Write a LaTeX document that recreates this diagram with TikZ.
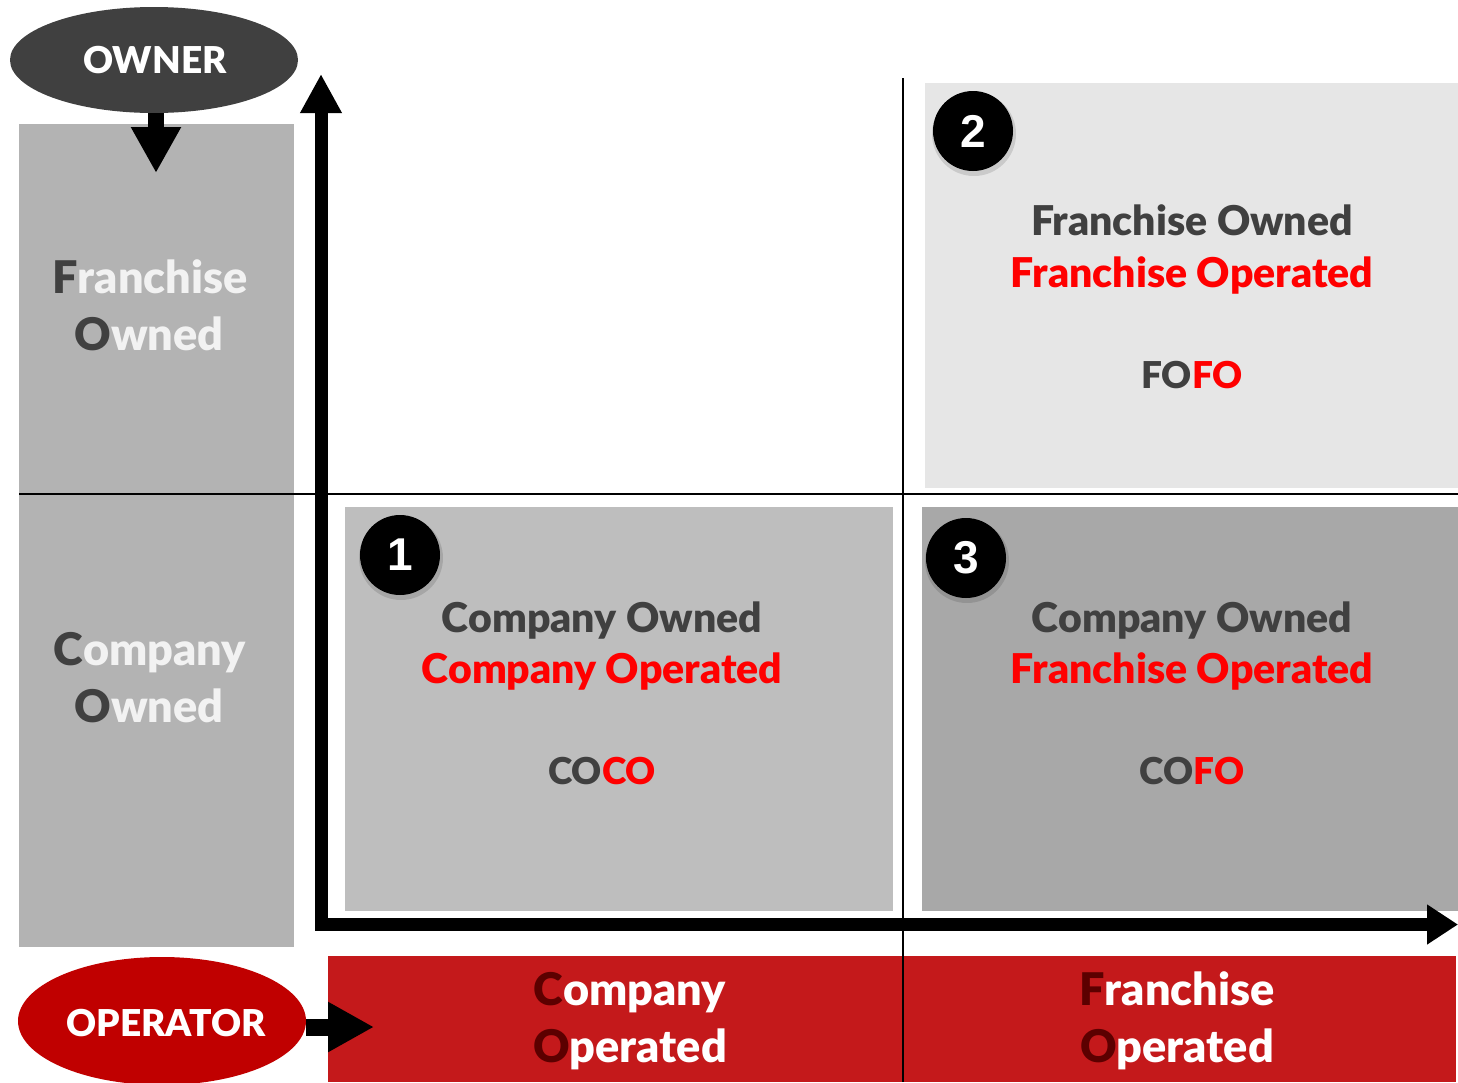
\documentclass[tikz,border=0pt]{standalone}
\usepackage{fontspec}
\setmainfont{Lato}[BoldFont={Lato Black}]
\newfontfamily\digitfont{Liberation Sans}
\usetikzlibrary{arrows.meta}

\definecolor{inkgray}{HTML}{404040}
\definecolor{palegray}{HTML}{F2F2F2}
\definecolor{sidegray}{HTML}{B3B3B3}
\definecolor{cocogray}{HTML}{BEBEBE}
\definecolor{fofogray}{HTML}{E6E6E6}
\definecolor{cofogray}{HTML}{A8A8A8}
\definecolor{bandred}{HTML}{C4191B}
\definecolor{opred}{HTML}{C00000}
\definecolor{textred}{HTML}{FF0000}
\definecolor{initred}{HTML}{5C0000}

\newcommand\qfont{\fontsize{41}{48}\selectfont\bfseries}
\newcommand\codefont{\fontsize{37}{44}\selectfont\bfseries}
\newcommand\sidefont{\fontsize{45}{52}\selectfont\bfseries}

\tikzset{
  panel/.style={anchor=north west, inner sep=0pt, outer sep=0pt, draw=none},
  line/.style={anchor=base, inner sep=0pt, font=\qfont},
  codeline/.style={anchor=base, inner sep=0pt, font=\codefont},
  sideline/.style={anchor=base, inner sep=0pt, font=\sidefont, text=palegray},
  bandline/.style={anchor=base, inner sep=0pt, font=\sidefont, text=white},
  badge/.style={circle, fill=black, minimum size=80pt, inner sep=0pt,
    text=white, font=\digitfont\fontsize{46}{46}\selectfont\bfseries},
  badgeshadow/.style={fill=black, opacity=0.12},
  divider/.style={line width=2pt, black},
  axis/.style={line width=13pt, line join=miter,
    {Triangle[length=39pt,width=39pt]}-{Triangle[length=31pt,width=38pt]}},
  pointer/.style={line width=16pt, -{Triangle[length=46pt,width=47pt]}}
}

\begin{document}
\begin{tikzpicture}[x=1pt, y=-1pt]
  \useasboundingbox (0,0) rectangle (1458,1082);

  % side column: ownership categories
  \node[panel, fill=sidegray, minimum width=275pt, minimum height=370pt] (sidetop) at (19,124) {};
  \node[panel, fill=sidegray, minimum width=275pt, minimum height=453pt] (sidebot) at (19,494) {};

  % quadrants
  \node[panel, fill=fofogray, minimum width=533pt, minimum height=405pt] (q2) at (925,83) {};
  \node[panel, fill=cocogray, minimum width=548pt, minimum height=404pt] (q1) at (345,507) {};
  \node[panel, fill=cofogray, minimum width=536pt, minimum height=404pt] (q3) at (922,507) {};

  % operator band
  \node[panel, fill=bandred, minimum width=1128pt, minimum height=126pt] (band) at (328,956) {};

  % grid lines
  \coordinate (hl) at (19,494);
  \coordinate (hr) at (1458,494);
  \coordinate (vt) at (903,78);
  \coordinate (vb) at (903,1082);
  \draw[divider] (hl) -- (hr);
  \draw[divider] (vt) -- (vb);

  % axes
  \coordinate (ytip) at (321,74);
  \coordinate (origin) at (321,924.5);
  \coordinate (xtip) at (1458,924.5);
  \draw[axis] (ytip) -- (origin) -- (xtip);

  % owner label and pointer
  \fill[inkgray] (154,60) ellipse (144 and 53);
  \node[inner sep=0pt, minimum width=288pt, minimum height=106pt] (owner) at (154,60) {};
  \node[anchor=base, inner sep=0pt, text=white, font=\fontsize{37}{37}\selectfont\bfseries] (ownertext) at (155,73) {OWNER};
  \coordinate (ownertip) at (156,173);
  \draw[pointer] (owner.south -| ownertip) -- (ownertip);

  % operator label and pointer
  \fill[opred] (162,1021) ellipse (144 and 64);
  \node[inner sep=0pt, minimum width=288pt, minimum height=128pt] (operator) at (162,1021) {};
  \node[anchor=base, inner sep=0pt, text=white, font=\fontsize{37}{37}\selectfont\bfseries] (optext) at (166,1036) {OPERATOR};
  \coordinate (optip) at (374,1027);
  \draw[pointer, line width=17pt] (operator.east |- optip) -- (optip);

  % side column text
  \node[sideline] (fo1) at (150,293) {\textcolor{inkgray}{F}ranchise};
  \node[sideline] (fo2) at (149,350) {\textcolor{inkgray}{O}wned};
  \node[sideline] (co1) at (150,665) {\textcolor{inkgray}{C}ompany};
  \node[sideline] (co2) at (149,722) {\textcolor{inkgray}{O}wned};

  % band text
  \node[bandline] (cop1) at (630,1005) {\textcolor{initred}{C}ompany};
  \node[bandline] (cop2) at (630,1062) {\textcolor{initred}{O}perated};
  \node[bandline] (fop1) at (1177,1005) {\textcolor{initred}{F}ranchise};
  \node[bandline] (fop2) at (1177,1062) {\textcolor{initred}{O}perated};

  % quadrant 2: FOFO
  \node[line, text=inkgray] (q2a) at (1192,235) {Franchise Owned};
  \node[line, text=textred] (q2b) at (1192,287) {Franchise Operated};
  \node[codeline, text=inkgray] (q2c) at (1192,388) {FO\textcolor{textred}{FO}};

  % quadrant 1: COCO
  \node[line, text=inkgray] (q1a) at (602,632) {Company Owned};
  \node[line, text=textred] (q1b) at (602,683) {Company Operated};
  \node[codeline, text=inkgray] (q1c) at (602,784) {CO\textcolor{textred}{CO}};

  % quadrant 3: COFO
  \node[line, text=inkgray] (q3a) at (1192,632) {Company Owned};
  \node[line, text=textred] (q3b) at (1192,683) {Franchise Operated};
  \node[codeline, text=inkgray] (q3c) at (1192,784) {CO\textcolor{textred}{FO}};

  % numbered badges
  \fill[badgeshadow] (974,134) circle (42);
  \node[badge] (b2) at (973,131) {2};
  \fill[badgeshadow] (401,558) circle (42);
  \node[badge] (b1) at (400,555) {1};
  \fill[badgeshadow] (967,561) circle (42);
  \node[badge] (b3) at (966,558) {3};
\end{tikzpicture}
\end{document}
